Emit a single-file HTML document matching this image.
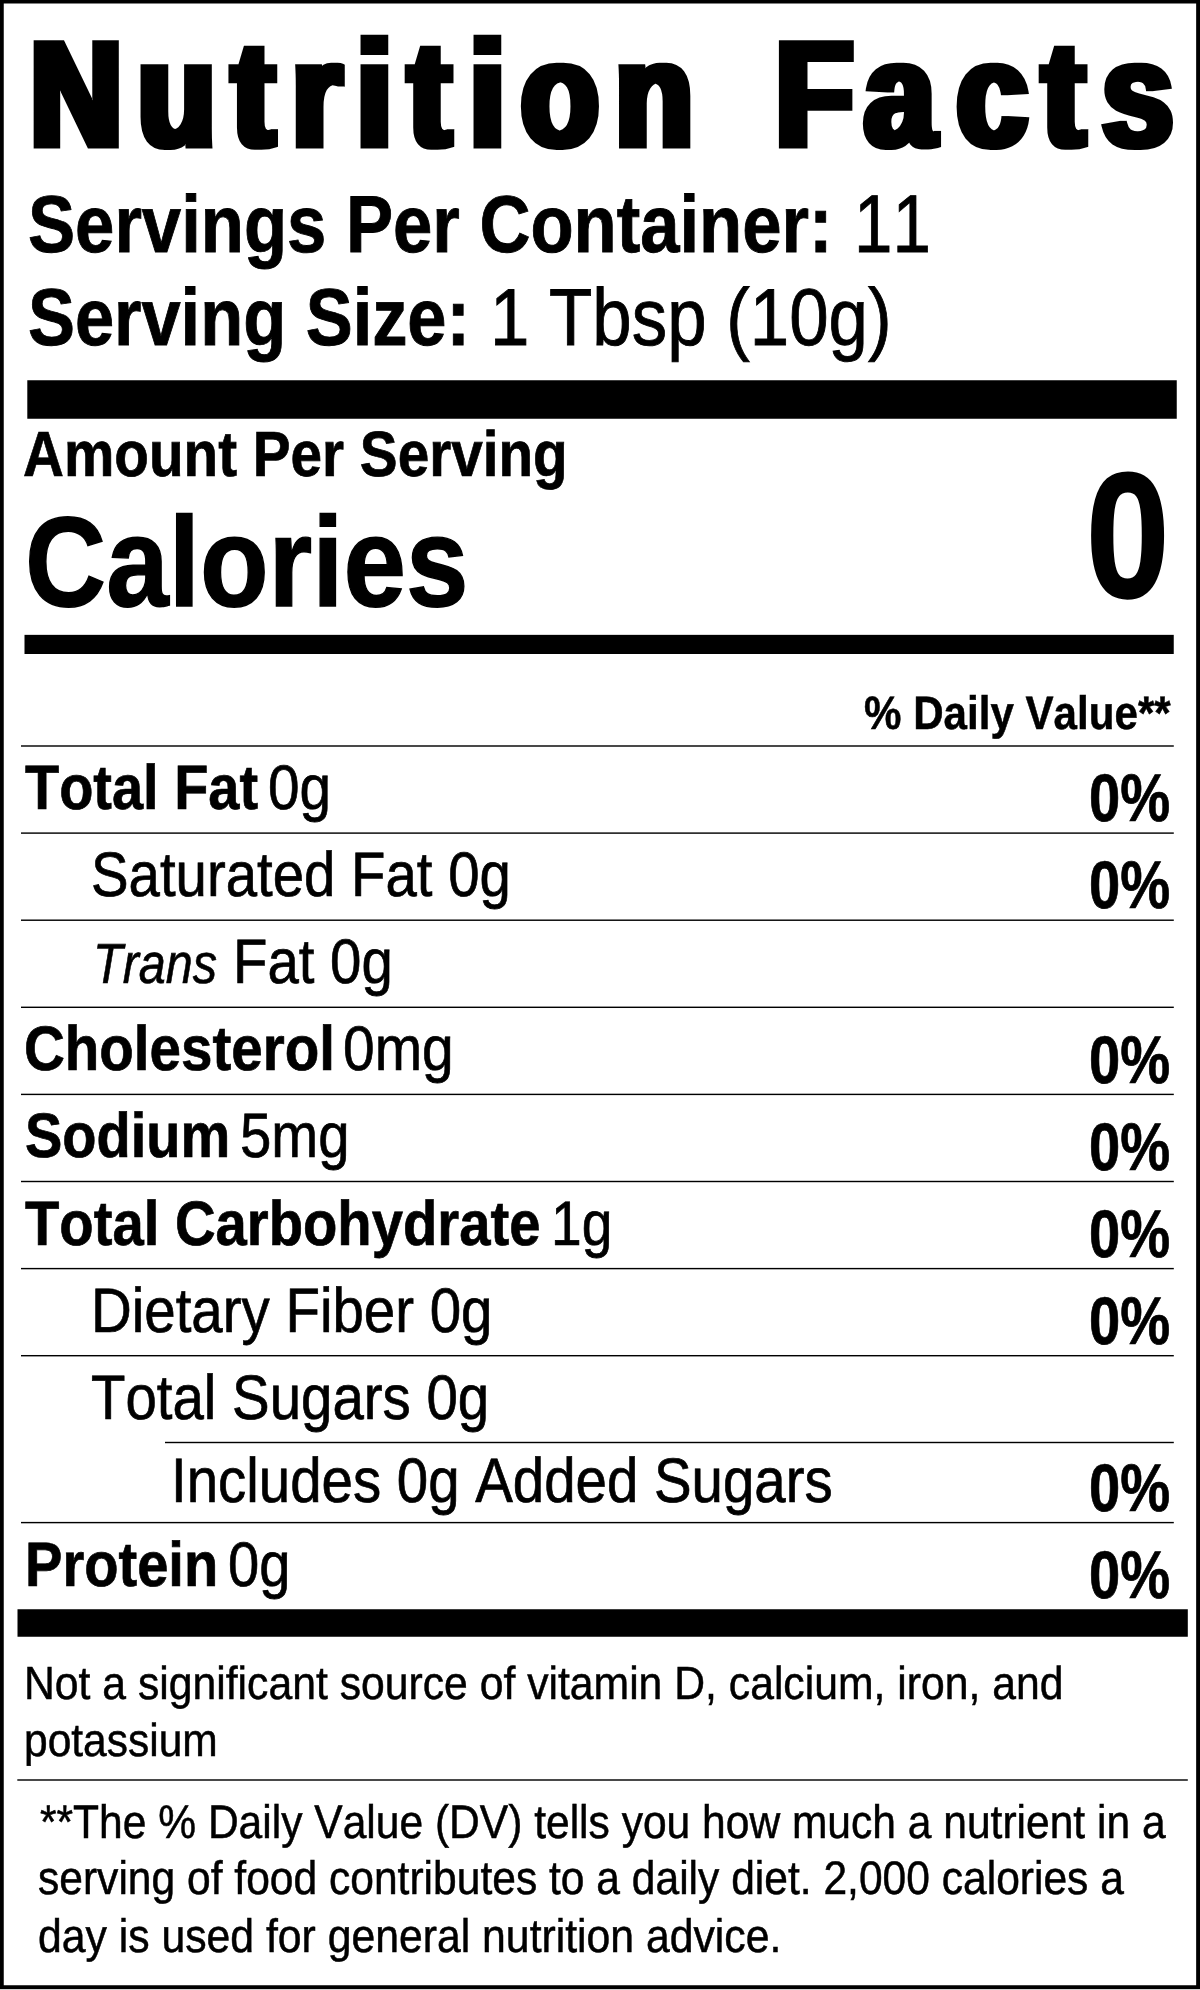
<!DOCTYPE html>
<html lang="en">
<head>
<meta charset="utf-8">
<title>Nutrition Facts</title>
<style>
html,body{margin:0;padding:0;background:#fff}
#label{position:relative;width:1200px;height:1990px;overflow:hidden;background:#fff;color:#000;font-family:"Liberation Sans",Arial,Helvetica,sans-serif}
.g{position:absolute;left:0;top:0;display:block}
.t{position:absolute;white-space:pre;line-height:1;transform-origin:0 0;font-weight:400;font-style:normal;margin:0;padding:0;-webkit-text-stroke:0.011em #000;text-rendering:geometricPrecision;font-kerning:none}
.b{font-weight:700}
.i{font-style:italic}
</style>
</head>
<body>
<div id="label">
<svg class="g" width="1200" height="1990" viewBox="0 0 1200 1990">
<rect x="0.00" y="0.00" width="1200.00" height="3.50" fill="#000"/>
<rect x="0.00" y="0.00" width="3.75" height="1990.00" fill="#000"/>
<rect x="1196.15" y="0.00" width="3.85" height="1990.00" fill="#000"/>
<rect x="0.00" y="1985.25" width="1200.00" height="3.75" fill="#000"/>
<rect x="27.30" y="380.25" width="1149.45" height="38.50" fill="#000"/>
<rect x="24.50" y="634.85" width="1149.25" height="19.15" fill="#000"/>
<rect x="21.00" y="745.29" width="1152.80" height="1.42" fill="#000"/>
<rect x="21.00" y="832.39" width="1152.80" height="1.42" fill="#000"/>
<rect x="21.00" y="919.49" width="1152.80" height="1.42" fill="#000"/>
<rect x="21.00" y="1006.59" width="1152.80" height="1.42" fill="#000"/>
<rect x="21.00" y="1093.69" width="1152.80" height="1.42" fill="#000"/>
<rect x="21.00" y="1180.79" width="1152.80" height="1.42" fill="#000"/>
<rect x="21.00" y="1267.89" width="1152.80" height="1.42" fill="#000"/>
<rect x="21.00" y="1354.99" width="1152.80" height="1.42" fill="#000"/>
<rect x="165.00" y="1441.79" width="1008.80" height="1.42" fill="#000"/>
<rect x="21.00" y="1521.89" width="1152.80" height="1.42" fill="#000"/>
<rect x="17.50" y="1609.25" width="1170.30" height="27.50" fill="#000"/>
<rect x="17.30" y="1779.29" width="1170.50" height="1.42" fill="#000"/>
<rect x="0.00" y="1989.00" width="1200.00" height="1.00" fill="#cecece"/>
</svg>
<svg class="g ttl" width="1200" height="200" viewBox="0 0 1200 200"><defs><filter id="hx" filterUnits="userSpaceOnUse" x="0" y="0" width="1200" height="200"><feMorphology operator="dilate" radius="3 0"/></filter></defs><g filter="url(#hx)"><text id="title" transform="scale(0.8500,1)" x="35.58 162.13 272.82 343.47 419.68 480.17 552.77 613.01 723.75 818.05 912.36 1016.64 1125.64 1226.20 1296.79" y="146.00" font-family="Liberation Sans, Arial, Helvetica, sans-serif" font-weight="700" font-size="150.00" fill="#000" stroke="#000" stroke-width="5.00" stroke-linejoin="miter" stroke-miterlimit="3" style="font-kerning:none;text-rendering:geometricPrecision">Nutrition Facts</text></g></svg>
<span id="spc" class="t b" style="left:28.20px;top:184.51px;font-size:80.74px;transform:scaleX(0.8747)">Servings Per Container:</span>
<span id="spc_v" class="t" style="left:854.10px;top:183.65px;font-size:81.97px;transform:scaleX(0.8426)">11</span>
<span id="ss" class="t b" style="left:28.22px;top:278.23px;font-size:80.74px;transform:scaleX(0.8717)">Serving Size:</span>
<span id="ss_v" class="t" style="left:489.91px;top:277.91px;font-size:80.74px;transform:scaleX(0.8773)">1 Tbsp (10g)</span>
<span id="aps" class="t b" style="left:22.70px;top:422.38px;font-size:63.98px;transform:scaleX(0.8858)">Amount Per Serving</span>
<span id="cal" class="t b" style="left:25.04px;top:499.45px;font-size:127.88px;transform:scaleX(0.8789)">Calories</span>
<span id="cal_v" class="t b" style="left:1086.02px;top:447.09px;font-size:178.37px;transform:scaleX(0.8413)">0</span>
<span id="dv" class="t b" style="left:864.12px;top:689.93px;font-size:46.92px;transform:scaleX(0.8979)">% Daily Value**</span>
<span id="tf" class="t b" style="left:25.05px;top:756.96px;font-size:62.85px;transform:scaleX(0.8902)">Total Fat</span>
<span id="tf_v" class="t" style="left:268.17px;top:756.62px;font-size:62.85px;transform:scaleX(0.9028)">0g</span>
<span id="p0" class="t b" style="left:1088.80px;top:764.97px;font-size:67.32px;transform:scaleX(0.8340)">0%</span>
<span id="sf" class="t" style="left:90.61px;top:843.82px;font-size:62.85px;transform:scaleX(0.8969)">Saturated Fat 0g</span>
<span id="p1" class="t b" style="left:1088.80px;top:852.47px;font-size:67.32px;transform:scaleX(0.8340)">0%</span>
<span id="tr" class="t i" style="left:92.56px;top:936.38px;font-size:56.51px;transform:scaleX(0.8597)">Trans</span>
<span id="tr_v" class="t" style="left:232.80px;top:931.17px;font-size:62.85px;transform:scaleX(0.8969)">Fat 0g</span>
<span id="ch" class="t b" style="left:23.57px;top:1018.10px;font-size:62.85px;transform:scaleX(0.8992)">Cholesterol</span>
<span id="ch_v" class="t" style="left:343.20px;top:1018.42px;font-size:62.85px;transform:scaleX(0.9051)">0mg</span>
<span id="p3" class="t b" style="left:1088.80px;top:1027.16px;font-size:67.32px;transform:scaleX(0.8340)">0%</span>
<span id="so" class="t b" style="left:24.87px;top:1105.18px;font-size:62.85px;transform:scaleX(0.8906)">Sodium</span>
<span id="so_v" class="t" style="left:239.95px;top:1105.32px;font-size:62.85px;transform:scaleX(0.8958)">5mg</span>
<span id="p4" class="t b" style="left:1088.80px;top:1113.97px;font-size:67.32px;transform:scaleX(0.8340)">0%</span>
<span id="tc" class="t b" style="left:25.08px;top:1192.91px;font-size:62.85px;transform:scaleX(0.8946)">Total Carbohydrate</span>
<span id="tc_v" class="t" style="left:550.76px;top:1192.55px;font-size:62.85px;transform:scaleX(0.8768)">1g</span>
<span id="p5" class="t b" style="left:1088.80px;top:1200.83px;font-size:67.32px;transform:scaleX(0.8340)">0%</span>
<span id="df" class="t" style="left:90.70px;top:1279.99px;font-size:62.85px;transform:scaleX(0.8980)">Dietary Fiber 0g</span>
<span id="p6" class="t b" style="left:1088.80px;top:1287.69px;font-size:67.32px;transform:scaleX(0.8340)">0%</span>
<span id="ts" class="t" style="left:90.70px;top:1366.82px;font-size:62.85px;transform:scaleX(0.8974)">Total Sugars 0g</span>
<span id="inc" class="t" style="left:170.82px;top:1449.95px;font-size:62.85px;transform:scaleX(0.8976)">Includes 0g Added Sugars</span>
<span id="p8" class="t b" style="left:1088.80px;top:1454.79px;font-size:67.32px;transform:scaleX(0.8340)">0%</span>
<span id="pr" class="t b" style="left:24.86px;top:1533.79px;font-size:62.85px;transform:scaleX(0.8923)">Protein</span>
<span id="pr_v" class="t" style="left:227.82px;top:1533.68px;font-size:62.85px;transform:scaleX(0.8928)">0g</span>
<span id="p9" class="t b" style="left:1088.80px;top:1541.69px;font-size:67.32px;transform:scaleX(0.8340)">0%</span>
<span id="ns1" class="t" style="left:24.17px;top:1659.70px;font-size:46.36px;transform:scaleX(0.9210)">Not a significant source of vitamin D, calcium, iron, and</span>
<span id="ns2" class="t" style="left:24.42px;top:1716.78px;font-size:46.36px;transform:scaleX(0.9169)">potassium</span>
<span id="fn1" class="t" style="left:39.78px;top:1798.29px;font-size:47.07px;transform:scaleX(0.9040)">**The % Daily Value (DV) tells you how much a nutrient in a</span>
<span id="fn2" class="t" style="left:37.81px;top:1854.21px;font-size:47.07px;transform:scaleX(0.9043)">serving of food contributes to a daily diet. 2,000 calories a</span>
<span id="fn3" class="t" style="left:38.22px;top:1911.72px;font-size:47.07px;transform:scaleX(0.9078)">day is used for general nutrition advice.</span>
</div>
</body>
</html>
